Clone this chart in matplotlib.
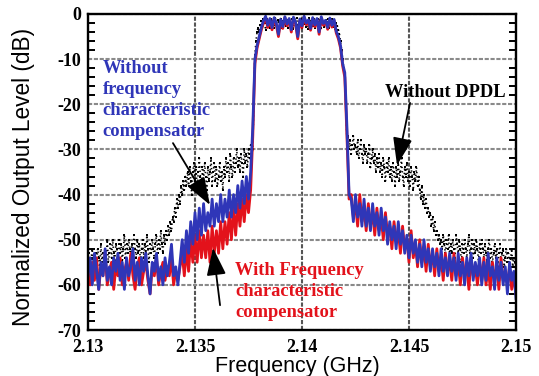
from matplotlib import pyplot as plt
from matplotlib.ticker import MultipleLocator, FixedLocator

import numpy as np

plt.rcParams['axes.unicode_minus'] = False

# frequency grid (GHz) of the measured spectra
freq_start = 2.13
freq_step_cmp = 0.0001
freq_step_raw = 0.00005

# without frequency characteristic compensator (blue)
blue_db = [
    -58, -54, -60, -53, -57, -61, -55, -58, -52, -59,
    -56, -60, -54, -57, -53, -59, -55, -61, -54, -58,
    -56, -52, -59, -55, -60, -54, -57, -53, -58, -62,
    -55, -57, -53, -59, -56, -60, -54, -58, -55, -51,
    -58, -56, -60, -55, -50, -55, -48, -53, -46, -51,
    -44, -50, -43, -49, -42, -48, -44, -47, -41, -47,
    -42, -46, -40, -46, -41, -45, -39, -45, -40, -44,
    -38, -43, -37, -42, -36, -41, -35, -25, -10, -7,
    -5, -3, -1.5, -0.5, -2.5, -1, -3, -0.8, -2, -4.5,
    -1.2, -2.8, -0.6, -2.2, -1, -3.5, -0.7, -1.8, -5, -1.1,
    -2.6, -0.5, -2, -1.3, -3.2, -0.8, -2.4, -1, -4, -0.6,
    -2.1, -1.4, -3, -0.9, -2.5, -1.2, -3.8, -5, -7, -11,
    -13, -25, -40, -41, -46, -40, -45, -42, -47, -41,
    -47, -43, -48, -42, -47, -44, -49, -43, -48, -45,
    -51, -46, -50, -47, -52, -46, -51, -48, -53, -49,
    -54, -49, -53, -50, -55, -51, -56, -50, -55, -52,
    -57, -52, -56, -53, -58, -52, -57, -54, -58, -53,
    -57, -54, -59, -53, -58, -55, -60, -54, -58, -53,
    -59, -55, -58, -54, -60, -55, -59, -53, -58, -56,
    -61, -54, -59, -55, -60, -56, -62, -55, -59, -57,
    -63,
]

# with frequency characteristic compensator (red)
red_db = [
    -57, -60, -55, -59, -54, -61, -56, -58, -53, -60,
    -57, -55, -61, -56, -58, -54, -60, -57, -55, -59,
    -53, -58, -61, -56, -54, -60, -57, -55, -59, -62,
    -56, -58, -54, -60, -57, -55, -59, -56, -58, -54,
    -60, -57, -59, -56, -53, -58, -52, -57, -50, -55,
    -49, -55, -48, -54, -49, -54, -48, -55, -47, -53,
    -48, -53, -46, -52, -46, -51, -44, -50, -43, -49,
    -42, -47, -41, -46, -40, -44, -39, -27, -11, -7.5,
    -5.5, -3.5, -2, -0.8, -3, -1.5, -3.5, -1, -2.5, -5,
    -1.5, -3.2, -0.8, -2.6, -1.3, -4, -1, -2.2, -5.5, -1.4,
    -3, -0.8, -2.4, -1.6, -3.6, -1, -2.8, -1.3, -4.5, -0.9,
    -2.5, -1.7, -3.4, -1.2, -2.9, -1.5, -4.2, -5.5, -7.5, -11.5,
    -14, -27, -41, -40, -45, -42, -47, -40, -46, -43,
    -48, -42, -47, -44, -49, -43, -48, -45, -50, -44,
    -49, -47, -52, -46, -50, -48, -53, -47, -52, -50,
    -55, -48, -54, -51, -56, -50, -55, -52, -57, -51,
    -56, -53, -58, -52, -57, -54, -59, -53, -57, -55,
    -59, -53, -58, -55, -60, -54, -58, -56, -61, -54,
    -58, -56, -60, -55, -59, -54, -60, -56, -61, -55,
    -59, -56, -61, -54, -59, -57, -60, -56, -61, -58,
    -62,
]

# without DPDL (black dots)
black_db = [
    -56, -53, -58, -54, -52, -57, -55, -53, -56, -52,
    -54, -57, -51, -55, -53, -56, -52, -54, -50, -55,
    -53, -51, -54, -50, -53, -55, -51, -52, -54, -50,
    -53, -51, -55, -52, -49, -54, -51, -53, -50, -52,
    -55, -51, -53, -49, -52, -54, -50, -53, -51, -55,
    -52, -50, -54, -51, -53, -49, -52, -55, -51, -53,
    -50, -52, -54, -51, -49, -53, -50, -52, -48, -51,
    -53, -49, -51, -48, -50, -47, -49, -46, -48, -45,
    -46, -43, -45, -41, -43, -40, -42, -38, -40, -37,
    -39, -36, -38, -35, -38, -34, -37, -40, -35, -33,
    -37, -34, -39, -35, -32, -36, -38, -34, -37, -33,
    -36, -39, -34, -37, -35, -32, -38, -35, -33, -37,
    -34, -38, -36, -33, -37, -35, -39, -34, -36, -32,
    -35, -33, -37, -31, -34, -36, -32, -35, -33, -30,
    -34, -32, -35, -31, -33, -36, -30, -33, -31, -34,
    -30, -32, -29, -31, -30, -18, -9, -6, -4, -3,
    -4, -2.5, -1.5, -3, -1, -2, -3.5, -1.2, -2.5, -1.8,
    -3, -1, -2.2, -1.5, -3.2, -0.8, -2, -2.8, -1.3, -2.4,
    -1, -3, -1.6, -2.2, -0.9, -2.7, -1.4, -3.1, -1.1, -2,
    -2.6, -1.2, -3.3, -1.5, -2.1, -0.8, -2.9, -1.7, -2.4, -1,
    -3, -1.4, -2.2, -1.1, -2.8, -1.6, -3.4, -0.9, -2, -1.5,
    -2.7, -1.2, -3.1, -1.8, -2.3, -1, -2.6, -1.4, -3.2, -1.1,
    -2.1, -2.9, -1.3, -2.5, -1, -3, -1.7, -2.2, -1.2, -2.8,
    -1.5, -3.3, -2, -2.6, -3.5, -4.5, -6, -8, -10, -12,
    -14, -20, -28, -27, -30, -28, -31, -29, -27, -30,
    -29, -31, -28, -32, -30, -28, -31, -33, -29, -31,
    -30, -33, -31, -29, -34, -32, -30, -33, -31, -35,
    -32, -34, -31, -35, -33, -36, -32, -34, -37, -33,
    -35, -32, -36, -34, -37, -33, -35, -38, -34, -36,
    -33, -37, -35, -32, -36, -38, -34, -36, -33, -37,
    -35, -38, -34, -36, -39, -35, -37, -34, -38, -36,
    -39, -41, -38, -42, -40, -43, -41, -44, -43, -45,
    -44, -47, -45, -48, -46, -49, -48, -50, -49, -51,
    -50, -52, -49, -51, -53, -50, -52, -49, -54, -51,
    -53, -50, -52, -54, -49, -51, -53, -50, -52, -55,
    -51, -53, -50, -52, -54, -51, -49, -53, -52, -50,
    -54, -51, -53, -50, -52, -55, -51, -53, -50, -52,
    -54, -51, -53, -55, -52, -50, -54, -52, -55, -53,
    -51, -54, -52, -56, -53, -51, -55, -53, -52, -56,
    -54, -52, -55, -53, -57, -54, -52, -56, -54, -55,
    -56,
]

x_ticks = [2.13, 2.135, 2.14, 2.145, 2.15]
x_labels = ['2.13', '2.135', '2.14', '2.145', '2.15']
y_ticks = [0, -10, -20, -30, -40, -50, -60, -70]

BLUE = '#2f36b8'
RED = '#e3121b'
serif = 'Liberation Serif'
sans = 'Liberation Sans'

f_cmp = freq_start + np.arange(len(blue_db)) * freq_step_cmp
f_raw = freq_start + np.arange(len(black_db)) * freq_step_raw

fig = plt.figure(figsize=(5.39, 3.76), dpi=100)
ax = fig.add_axes([0.1633, 0.1223, 0.7940, 0.8405])

# black sweep: dotted trace plus the sample points
ax.plot(f_raw, black_db, ls=(0, (0.8, 1.8)), lw=1.2, color='k', zorder=2)
ax.plot(f_raw, black_db, ls='none', marker='s', ms=1.6, mew=0,
        color='k', zorder=2)
ax.plot(f_cmp, red_db, color=RED, lw=2.0, zorder=3)
ax.plot(f_cmp, blue_db, color=BLUE, lw=2.0, zorder=4)

ax.set_xlim(2.13, 2.15)
ax.set_ylim(-70, 0)
ax.xaxis.set_major_locator(FixedLocator(x_ticks))
ax.set_xticklabels(x_labels)
ax.yaxis.set_major_locator(FixedLocator(y_ticks))
ax.yaxis.set_minor_locator(MultipleLocator(2))

ax.grid(axis='y', color='#8a8a8a', ls=(0, (2, 0.8)), lw=1.5, zorder=1)
ax.grid(axis='x', color='#555555', ls=(0, (2, 0.8)), lw=1.5, zorder=1)

for sp in ax.spines.values():
    sp.set_linewidth(1.7)
    sp.set_zorder(8)
ax.tick_params(axis='both', which='both', direction='in', right=True,
               width=1.4)
ax.tick_params(axis='y', which='major', length=0, pad=5)
ax.tick_params(axis='y', which='minor', length=5)
ax.tick_params(axis='x', which='major', length=0, pad=6.5)
for lab in ax.get_xticklabels() + ax.get_yticklabels():
    lab.set_fontfamily(serif)
    lab.set_fontweight('bold')
    lab.set_fontsize(13)

ax.set_xlabel('Frequency (GHz)', family=sans, fontsize=15.5)
ax.set_ylabel('Normalized Output Level (dB)', family=sans, fontsize=16.3)
ax.xaxis.set_label_coords(0.49, -0.083)
ax.yaxis.set_label_coords(-0.124, 0.484)

# annotations
txt = dict(family=serif, fontweight='bold', fontsize=13.3, va='top',
           ha='left', linespacing=1.3, zorder=6)
ax.text(2.13069, -10.3, 'Without\nfrequency\ncharacteristic\ncompensator',
        color=BLUE, **txt)
ax.text(2.13687, -54.9, 'With Frequency\ncharacteristic\ncompensator',
        color=RED, **txt)
ax.text(2.14388, -15.5, 'Without DPDL', color='k', **txt)

arrow = dict(arrowstyle='-|>,head_length=1.7,head_width=0.6',
             mutation_scale=10, color='k', lw=1.3, shrinkA=0, shrinkB=0)
ax.annotate('', xy=(2.1357, -42.3), xytext=(2.13397, -28.6),
            arrowprops=arrow, zorder=7)
ax.annotate('', xy=(2.13584, -51.8), xytext=(2.13617, -64.5),
            arrowprops=arrow, zorder=7)
ax.annotate('', xy=(2.14444, -33.5), xytext=(2.14505, -19.7),
            arrowprops=arrow, zorder=7)

fig.savefig('out.png', dpi=100)
